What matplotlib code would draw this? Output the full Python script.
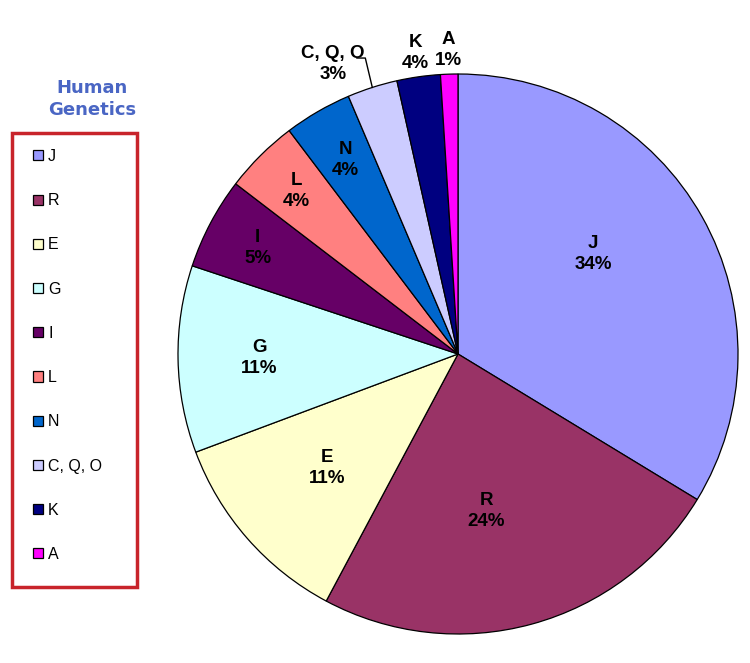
import numpy as np
import matplotlib
matplotlib.use("Agg")
import matplotlib.pyplot as plt
from matplotlib.patches import Rectangle

# haplogroup shares (labels as printed on the chart)
groups = ["J", "R", "E", "G", "I", "L", "N", "C, Q, O", "K", "A"]
shares = [33.7, 24.1, 11.5, 10.8, 5.3, 4.3, 3.9, 2.9, 2.5, 1.0]
pct_text = ["34%", "24%", "11%", "11%", "5%", "4%", "4%", "3%", "4%", "1%"]
colors = ["#9999FF", "#993366", "#FFFFCC", "#CCFFFF", "#660066",
          "#FF8080", "#0066CC", "#CCCCFF", "#000080", "#FF00FF"]

# where each label sits (fraction of radius) and small angle tweaks
label_r = [0.6, 0.57, 0.62, 0.71, 0.81, 0.82, 0.8, None, 1.085, 1.085]
angle_tweak = {"J": 7, "R": -5}

plt.rcParams["font.family"] = ["Liberation Sans", "DejaVu Sans"]

fig = plt.figure(figsize=(7.5, 6.63), dpi=100)
ax = fig.add_axes([178 / 750, 1 - 634 / 663, 560 / 750, 560 / 663])

wedges, _ = ax.pie(shares, colors=colors, startangle=90, counterclock=False,
                   radius=1.0, wedgeprops=dict(edgecolor="black", linewidth=0.9))
ax.set_xlim(-1, 1)
ax.set_ylim(-1, 1)
ax.set_aspect("equal")
ax.axis("off")

lab_kw = dict(ha="center", va="center", fontsize=13.5, fontweight="bold",
              linespacing=1.3, color="black")

for w, name, pct, r in zip(wedges, groups, pct_text, label_r):
    mid = np.deg2rad((w.theta1 + w.theta2) / 2 + angle_tweak.get(name, 0))
    if r is None:
        # leader line for the thin C, Q, O slice
        ex, ey = np.cos(mid), np.sin(mid)
        ax.plot([ex, ex - 0.025, ex - 0.055], [ey, 1.057, 1.057],
                color="black", lw=1, clip_on=False)
        ax.text(ex - 0.14, 1.035, f"{name}\n{pct}", **lab_kw)
        continue
    ax.text(r * np.cos(mid), r * np.sin(mid), f"{name}\n{pct}", **lab_kw)

# legend box on the left
fig.add_artist(Rectangle((12 / 750, 1 - 587 / 663), 125 / 750, 454 / 663,
                         transform=fig.transFigure, fill=False,
                         edgecolor="#C8242B", linewidth=2.5))
fig.legend(wedges, groups, loc="upper left",
           bbox_to_anchor=(25 / 750, 1 - 141 / 663), frameon=False,
           fontsize=11.5, handlelength=0.6, handleheight=0.6,
           handletextpad=0.35, labelspacing=1.83, borderpad=0)

fig.text(92 / 750, 1 - 99 / 663, "Human\nGenetics", ha="center", va="center",
         fontsize=13, fontweight="bold", color="#4A66C4",
         family=["DejaVu Sans"], linespacing=1.25)

fig.savefig("out.png", dpi=100)
